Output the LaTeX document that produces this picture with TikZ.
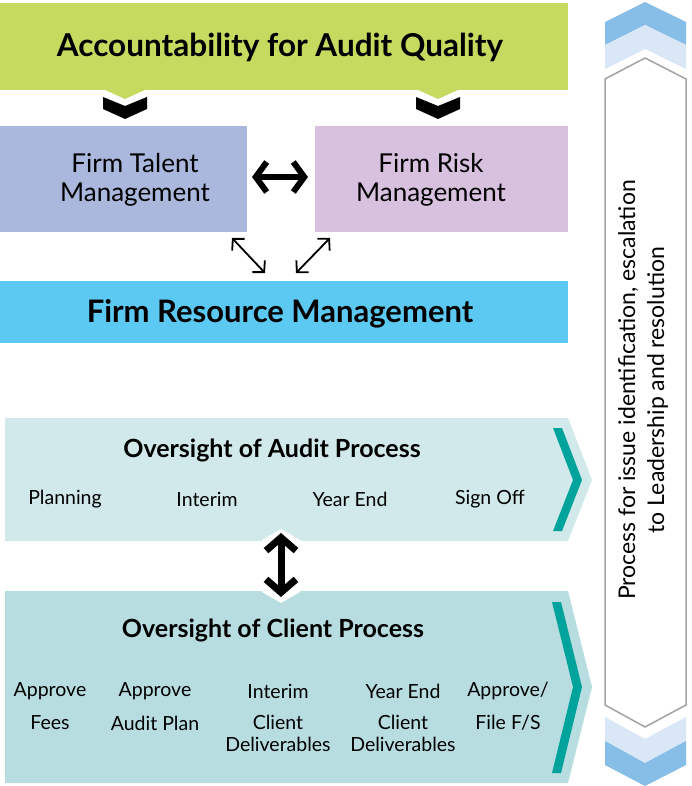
\documentclass[tikz,border=0pt]{standalone}
\usepackage{fontspec}
\setmainfont{Lato}
\usetikzlibrary{arrows.meta, positioning}
\definecolor{accgreen}{HTML}{C6DA5F}
\definecolor{talentblue}{HTML}{AAB8DE}
\definecolor{riskpink}{HTML}{D8C1DF}
\definecolor{resblue}{HTML}{5BC9F1}
\definecolor{auditbg}{HTML}{D1E9EA}
\definecolor{clientbg}{HTML}{B8DDE0}
\definecolor{tealc}{HTML}{00A39B}
\definecolor{sidedark}{HTML}{86BEE7}
\definecolor{sidelight}{HTML}{DAE7F7}
\definecolor{sidegray}{HTML}{A3A3A3}
\tikzset{
  box/.style={inner sep=0pt, outer sep=0pt, anchor=north west},
  head/.style={font=\fontsize{31.5}{34}\selectfont\bfseries},
  mgmt/.style={align=center, font=\fontsize{26}{29}\selectfont},
  panelhead/.style={font=\fontsize{25}{28}\selectfont\bfseries},
  stage/.style={align=center, font=\fontsize{19.5}{22}\selectfont},
  fatarrow/.style={line width=6pt, {Straight Barb[length=11pt,width=30pt]}-{Straight Barb[length=11pt,width=30pt]}},
  thinarrow/.style={line width=1.8pt, {Straight Barb[length=8pt,width=17pt]}-{Straight Barb[length=8pt,width=17pt]}}
}

\begin{document}
\begin{tikzpicture}[x=1pt, y=-1pt]
\useasboundingbox[fill=white] (0,0) rectangle (691,786);
%% accountability
  \node[box, fill=accgreen, minimum width=568pt, minimum height=87pt] (acc) at (0,3) {};
	\node[head] (acc text) at (280,47) {Accountability for Audit Quality};
  \foreach \cx in {125,438} {
    \fill[accgreen] (\cx-22,89) -- (\cx+22,89) -- (\cx,99) -- cycle;
    \fill (\cx-22,97) -- (\cx,106) -- (\cx+22,97) -- (\cx+22,109) -- (\cx,119) -- (\cx-22,109) -- cycle;
  }
%% talent and risk
  \node[box, fill=talentblue, minimum width=247pt, minimum height=106pt] (talent) at (0,126) {};
	\node[mgmt] (talent text) at (135,180) {Firm Talent\\Management};
  \node[box, fill=riskpink, minimum width=253pt, minimum height=106pt] (risk) at (315,126) {};
	\node[mgmt] (risk text) at (431,180) {Firm Risk\\Management};
  \draw[fatarrow] ([xshift=5pt, yshift=2pt]talent.east) -- ([xshift=-7pt, yshift=2pt]risk.west);
%% resource
  \node[box, fill=resblue, minimum width=568pt, minimum height=62pt] (res) at (0,281) {};
	\node[head, font=\fontsize{31}{34}\selectfont\bfseries] (res text) at (280,314) {Firm Resource Management};
  \draw[thinarrow] ([xshift=-15pt, yshift=-6pt]talent.south east) -- ([xshift=-19pt, yshift=8pt]res.north);
  \draw[thinarrow] ([xshift=15pt, yshift=-6pt]risk.south west) -- ([xshift=12pt, yshift=8pt]res.north);
%% audit process
  \fill[auditbg] (5,418) -- (568,418) -- (592,480) -- (568,541) -- (5,541) -- cycle;
  \fill[tealc] (553,428) -- (562,428) -- (582,480) -- (562,531) -- (553,531) -- (573,480) -- cycle;
	\node[panelhead] (audit) at (272,450) {Oversight of Audit Process};
	\node[stage] (plan) at (65,499) {Planning};
	\node[stage] (interim) at (207,499) {Interim};
	\node[stage] (yearend) at (350,499) {Year End};
	\node[stage] (signoff) at (490,499) {Sign Off};
%% client process
  \fill[clientbg] (5,591) -- (568,591) -- (592,687) -- (568,783) -- (5,783) -- cycle;
  \fill[tealc] (552,602) -- (561,602) -- (582,687) -- (561,773) -- (552,773) -- (573,687) -- cycle;
	\node[panelhead] (client) at (273,630) {Oversight of Client Process};
	\node[stage] (fees a) at (50,691) {Approve};
	\node[stage] (fees b) at (50,723) {Fees};
	\node[stage] (aplan a) at (155,691) {Approve};
	\node[stage] (aplan b) at (155,723) {Audit Plan};
	\node[stage] (idel a) at (278,691) {Interim};
	\node[stage] (idel b) at (278,733) {Client\\Deliverables};
	\node[stage] (ydel a) at (403,691) {Year End};
	\node[stage] (ydel b) at (403,733) {Client\\Deliverables};
	\node[stage] (file a) at (508,691) {Approve/};
	\node[stage] (file b) at (508,723) {File F/S};
%% link between the two processes
  \coordinate (audit bottom) at (281,541);
  \coordinate (client top) at (281,591);
  \fill[white] (262,540) -- (281,529) -- (300,540) -- (300,592) -- (281,603) -- (262,592) -- cycle;
  \draw[line width=7pt, {Straight Barb[length=13pt,width=30pt]}-{Straight Barb[length=13pt,width=30pt]}] ([yshift=8pt]audit bottom) -- ([yshift=-6pt]client top);
%% escalation side bar
  \fill[sidedark] (605,22) -- (645,2) -- (686,22) -- (686,45) -- (645,25) -- (605,45) -- cycle;
  \fill[sidelight] (605,45) -- (645,25) -- (686,45) -- (686,69) -- (645,49) -- (605,69) -- cycle;
  \draw[sidegray, line width=1.5pt] (605,79) -- (645,58) -- (686,79) -- (686,705) -- (645,727) -- (605,705) -- cycle;
  \fill[sidelight] (605,717) -- (645,739) -- (686,717) -- (686,741) -- (645,763) -- (605,741) -- cycle;
  \fill[sidedark] (605,741) -- (645,763) -- (686,741) -- (686,765) -- (645,786) -- (605,765) -- cycle;
	\node[rotate=90, align=center, font=\fontsize{23}{29}\selectfont] (side) at (643,390) {Process for issue identification, escalation\\to Leadership and resolution};
\end{tikzpicture}
\end{document}
